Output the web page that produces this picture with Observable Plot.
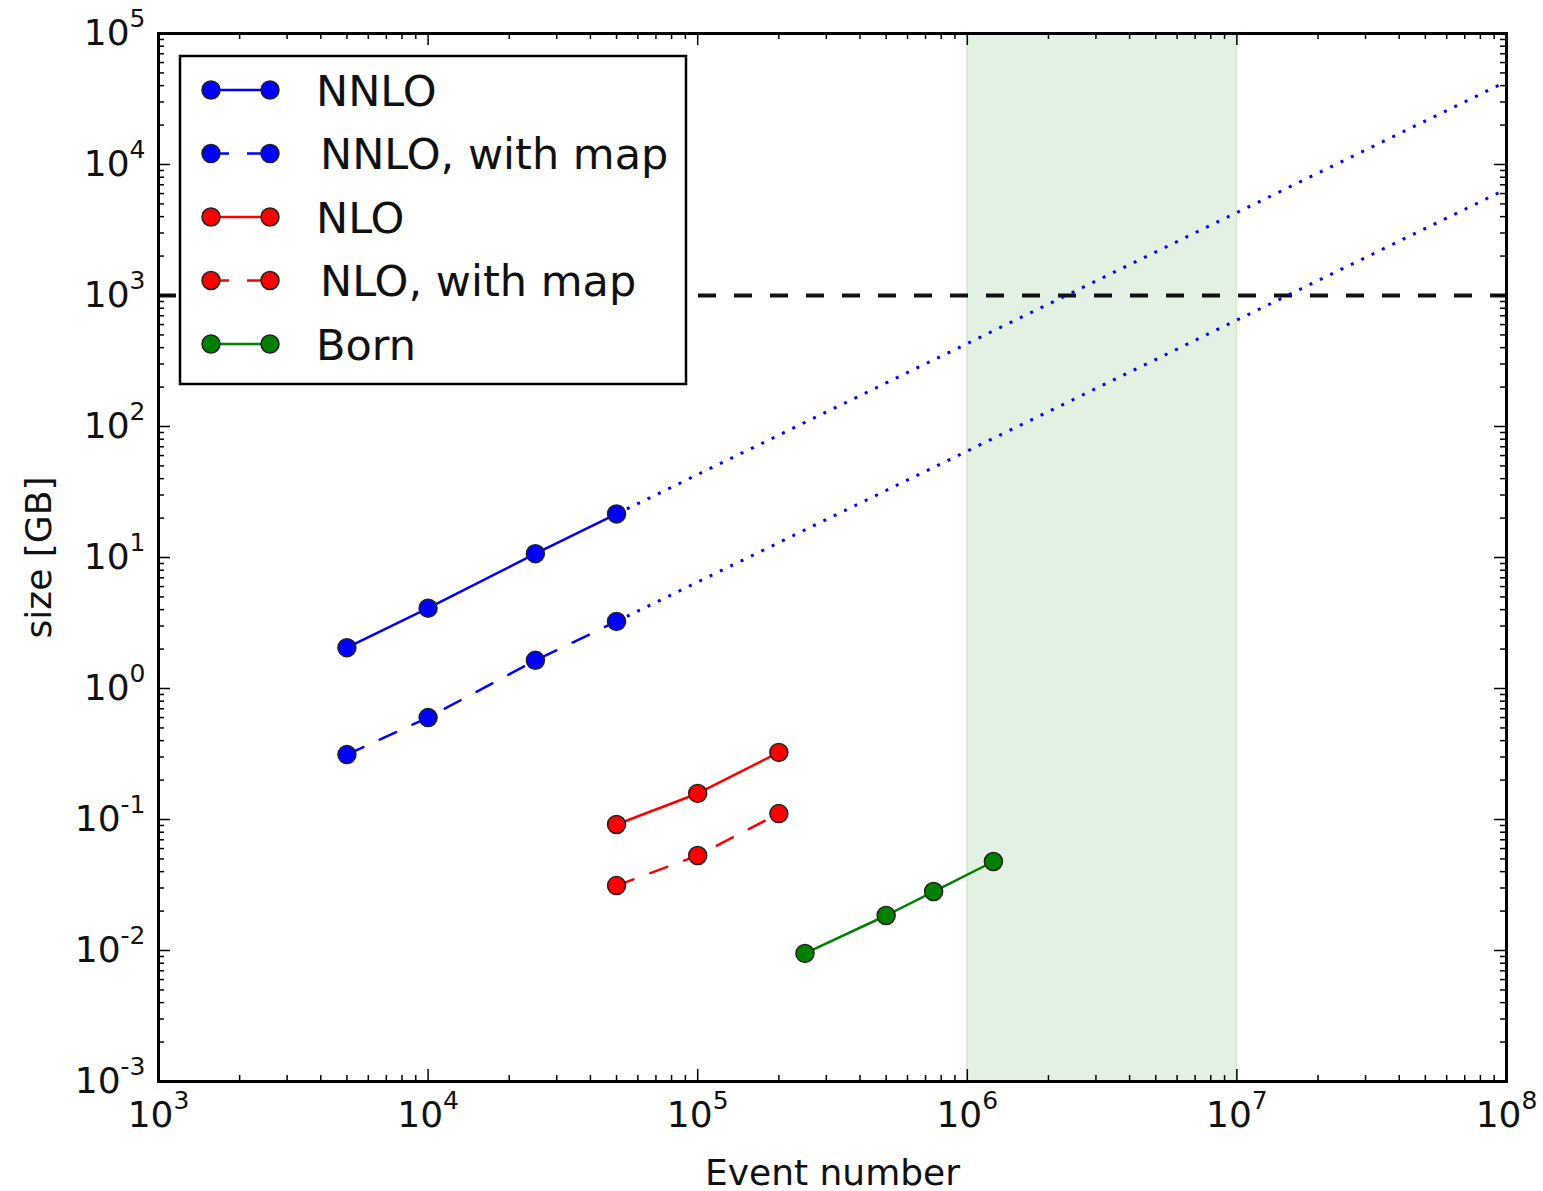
<!DOCTYPE html>
<html>
<head>
<meta charset="utf-8">
<script src="https://cdn.jsdelivr.net/npm/d3@7"></script>
<script src="https://cdn.jsdelivr.net/npm/@observablehq/plot@0.6"></script>
<style>
  html, body { margin: 0; padding: 0; background: #fff; }
  #chart svg { display: block; }
</style>
</head>
<body>
<div id="chart"></div>
<script>
// ---- data ----
const nnloX = [5e3, 1e4, 2.5e4, 5e4];
const nnloY = [2.05, 4.1, 10.7, 21.5];
const nnloMapY = [0.313, 0.60, 1.64, 3.25];
const nloX = [5e4, 1e5, 2e5];
const nloY = [0.0916, 0.158, 0.325];
const nloMapY = [0.0313, 0.0531, 0.111];
const bornX = [2.5e5, 5e5, 7.5e5, 1.25e6];
const bornY = [0.0095, 0.0185, 0.0282, 0.0478];
const extrapX = [5e4, 1e8];
const extrapNnloY = [21.5, 43000];
const extrapNnloMapY = [3.25, 6500];
const limitY = [1e3];
const bandX = [1e6, 1e7];

const xTicks = [1e3, 1e4, 1e5, 1e6, 1e7, 1e8];
const xTickLabels = ["10^3", "10^4", "10^5", "10^6", "10^7", "10^8"];
const yTicks = [1e-3, 1e-2, 1e-1, 1e0, 1e1, 1e2, 1e3, 1e4, 1e5];
const yTickLabels = ["10^-3", "10^-2", "10^-1", "10^0", "10^1", "10^2", "10^3", "10^4", "10^5"];

const seriesNames = ["NNLO", "NNLO, with map", "NLO", "NLO, with map", "Born"];
const seriesColors = ["#0000ff", "#0000ff", "#ff0000", "#ff0000", "#008000"];
const seriesDash = [null, "18,18", null, "18,18", null];

// ---- build tables ----
const series = [
  {name: seriesNames[0], xs: nnloX, ys: nnloY},
  {name: seriesNames[1], xs: nnloX, ys: nnloMapY},
  {name: seriesNames[2], xs: nloX, ys: nloY},
  {name: seriesNames[3], xs: nloX, ys: nloMapY},
  {name: seriesNames[4], xs: bornX, ys: bornY}
].map((s, i) => ({...s, color: seriesColors[i], dash: seriesDash[i],
  rows: s.xs.map((x, j) => ({x, y: s.ys[j]}))}));

const extrap = [extrapNnloY, extrapNnloMapY].map(ys => extrapX.map((x, j) => ({x, y: ys[j]})));

// minor tick positions (2..9 within each decade)
function minors(lo, hi) {
  const out = [];
  for (let e = lo; e < hi; e++) for (let k = 2; k <= 9; k++) out.push(k * Math.pow(10, e));
  return out;
}
const xMinor = minors(3, 8);
const yMinor = minors(-3, 5);

const W = 1543, H = 1191;
const mL = 158, mR = 37, mT = 33, mB = 110;
const fw = W - mL - mR, fh = H - mT - mB;
const majorLen = 12, minorLen = 6;

const xFmt = new Map(xTicks.map((t, i) => [t, xTickLabels[i]]));
const yFmt = new Map(yTicks.map((t, i) => [t, yTickLabels[i]]));

const marks = [
  Plot.rect([{x1: bandX[0], x2: bandX[1]}], {x1: "x1", x2: "x2", fill: "#008000", fillOpacity: 0.11, stroke: "#008000", strokeOpacity: 0.12, strokeWidth: 1.5}),
  Plot.ruleY(limitY, {stroke: "#111", strokeWidth: 4, strokeDasharray: "18,18"}),
  ...extrap.map(rows => Plot.line(rows, {x: "x", y: "y", stroke: "#0000ff", strokeWidth: 3, strokeDasharray: "3,8.5", strokeLinecap: "butt"})),
];
for (const s of series) {
  marks.push(Plot.line(s.rows, {x: "x", y: "y", stroke: s.color, strokeWidth: 2.5, strokeDasharray: s.dash || undefined}));
  marks.push(Plot.dot(s.rows, {x: "x", y: "y", r: 9, fill: s.color, stroke: "#222", strokeWidth: 1.5}));
}
// inward ticks on all four sides
marks.push(
  Plot.tickX(xTicks, {x: d => d, insetTop: fh - majorLen, stroke: "#000", strokeWidth: 1.5}),
  Plot.tickX(xTicks, {x: d => d, insetBottom: fh - majorLen, stroke: "#000", strokeWidth: 1.5}),
  Plot.tickX(xMinor, {x: d => d, insetTop: fh - minorLen, stroke: "#000", strokeWidth: 1.5}),
  Plot.tickX(xMinor, {x: d => d, insetBottom: fh - minorLen, stroke: "#000", strokeWidth: 1.5}),
  Plot.tickY(yTicks, {y: d => d, insetRight: fw - majorLen, stroke: "#000", strokeWidth: 1.5}),
  Plot.tickY(yTicks, {y: d => d, insetLeft: fw - majorLen, stroke: "#000", strokeWidth: 1.5}),
  Plot.tickY(yMinor, {y: d => d, insetRight: fw - minorLen, stroke: "#000", strokeWidth: 1.5}),
  Plot.tickY(yMinor, {y: d => d, insetLeft: fw - minorLen, stroke: "#000", strokeWidth: 1.5}),
  Plot.frame({stroke: "#000", strokeWidth: 3}),
  Plot.axisX(xTicks, {tickSize: 0, tickPadding: 20, tickFormat: d => xFmt.get(d), fontSize: 36, label: null, fill: "#111"}),
  Plot.axisY(yTicks, {tickSize: 0, tickPadding: 13, tickFormat: d => yFmt.get(d), fontSize: 36, label: null, fill: "#111"}),
  Plot.text(["Event number"], {frameAnchor: "bottom", dy: 103, lineAnchor: "bottom", fontSize: 36, fill: "#111"}),
  Plot.text(["size [GB]"], {frameAnchor: "left", dx: -119, rotate: -90, textAnchor: "middle", lineAnchor: "middle", fontSize: 36, fill: "#111"})
);

const chart = Plot.plot({
  width: W, height: H,
  marginLeft: mL, marginRight: mR, marginTop: mT, marginBottom: mB,
  style: {fontFamily: "DejaVu Sans", background: "#fff", overflow: "visible"},
  x: {type: "log", domain: [1e3, 1e8]},
  y: {type: "log", domain: [1e-3, 1e5]},
  marks
});

const svg = chart.tagName.toLowerCase() === "svg" ? chart : chart.querySelector("svg");
const NS = "http://www.w3.org/2000/svg";

// superscript exponents in tick labels
svg.querySelectorAll('g[aria-label="x-axis tick label"] text, g[aria-label="y-axis tick label"] text').forEach(t => {
  const s = t.textContent;
  const parts = s.split("^");
  if (parts.length < 2) return;
  t.textContent = "";
  const a = document.createElementNS(NS, "tspan");
  a.textContent = parts[0];
  const b = document.createElementNS(NS, "tspan");
  b.textContent = parts[1];
  b.setAttribute("font-size", "25");
  b.setAttribute("dy", "-18");
  t.appendChild(a); t.appendChild(b);
});

// legend (drawn inside the plot frame, upper left)
const leg = d3.select(svg).append("g").attr("aria-label", "legend");
const lx = mL + 22, ly = mT + 23, lw = 506, lh = 328;
leg.append("rect").attr("x", lx).attr("y", ly).attr("width", lw).attr("height", lh)
  .attr("fill", "#fff").attr("stroke", "#000").attr("stroke-width", 2.5);
const textX = [316, 320, 316, 320, 316];
series.forEach((s, i) => {
  const cy = ly + 34 + i * 63.5;
  leg.append("line").attr("x1", 211).attr("x2", 270).attr("y1", cy).attr("y2", cy)
    .attr("stroke", s.color).attr("stroke-width", 2.5)
    .attr("stroke-dasharray", s.dash || null);
  [211, 270].forEach(cx => leg.append("circle").attr("cx", cx).attr("cy", cy).attr("r", 9)
    .attr("fill", s.color).attr("stroke", "#222").attr("stroke-width", 1.5));
  leg.append("text").attr("x", textX[i]).attr("y", cy + 15.5)
    .attr("text-anchor", "start")
    .attr("font-family", "DejaVu Sans").attr("font-size", 43).attr("fill", "#111")
    .text(s.name);
});

document.getElementById("chart").appendChild(chart);
</script>
</body>
</html>
